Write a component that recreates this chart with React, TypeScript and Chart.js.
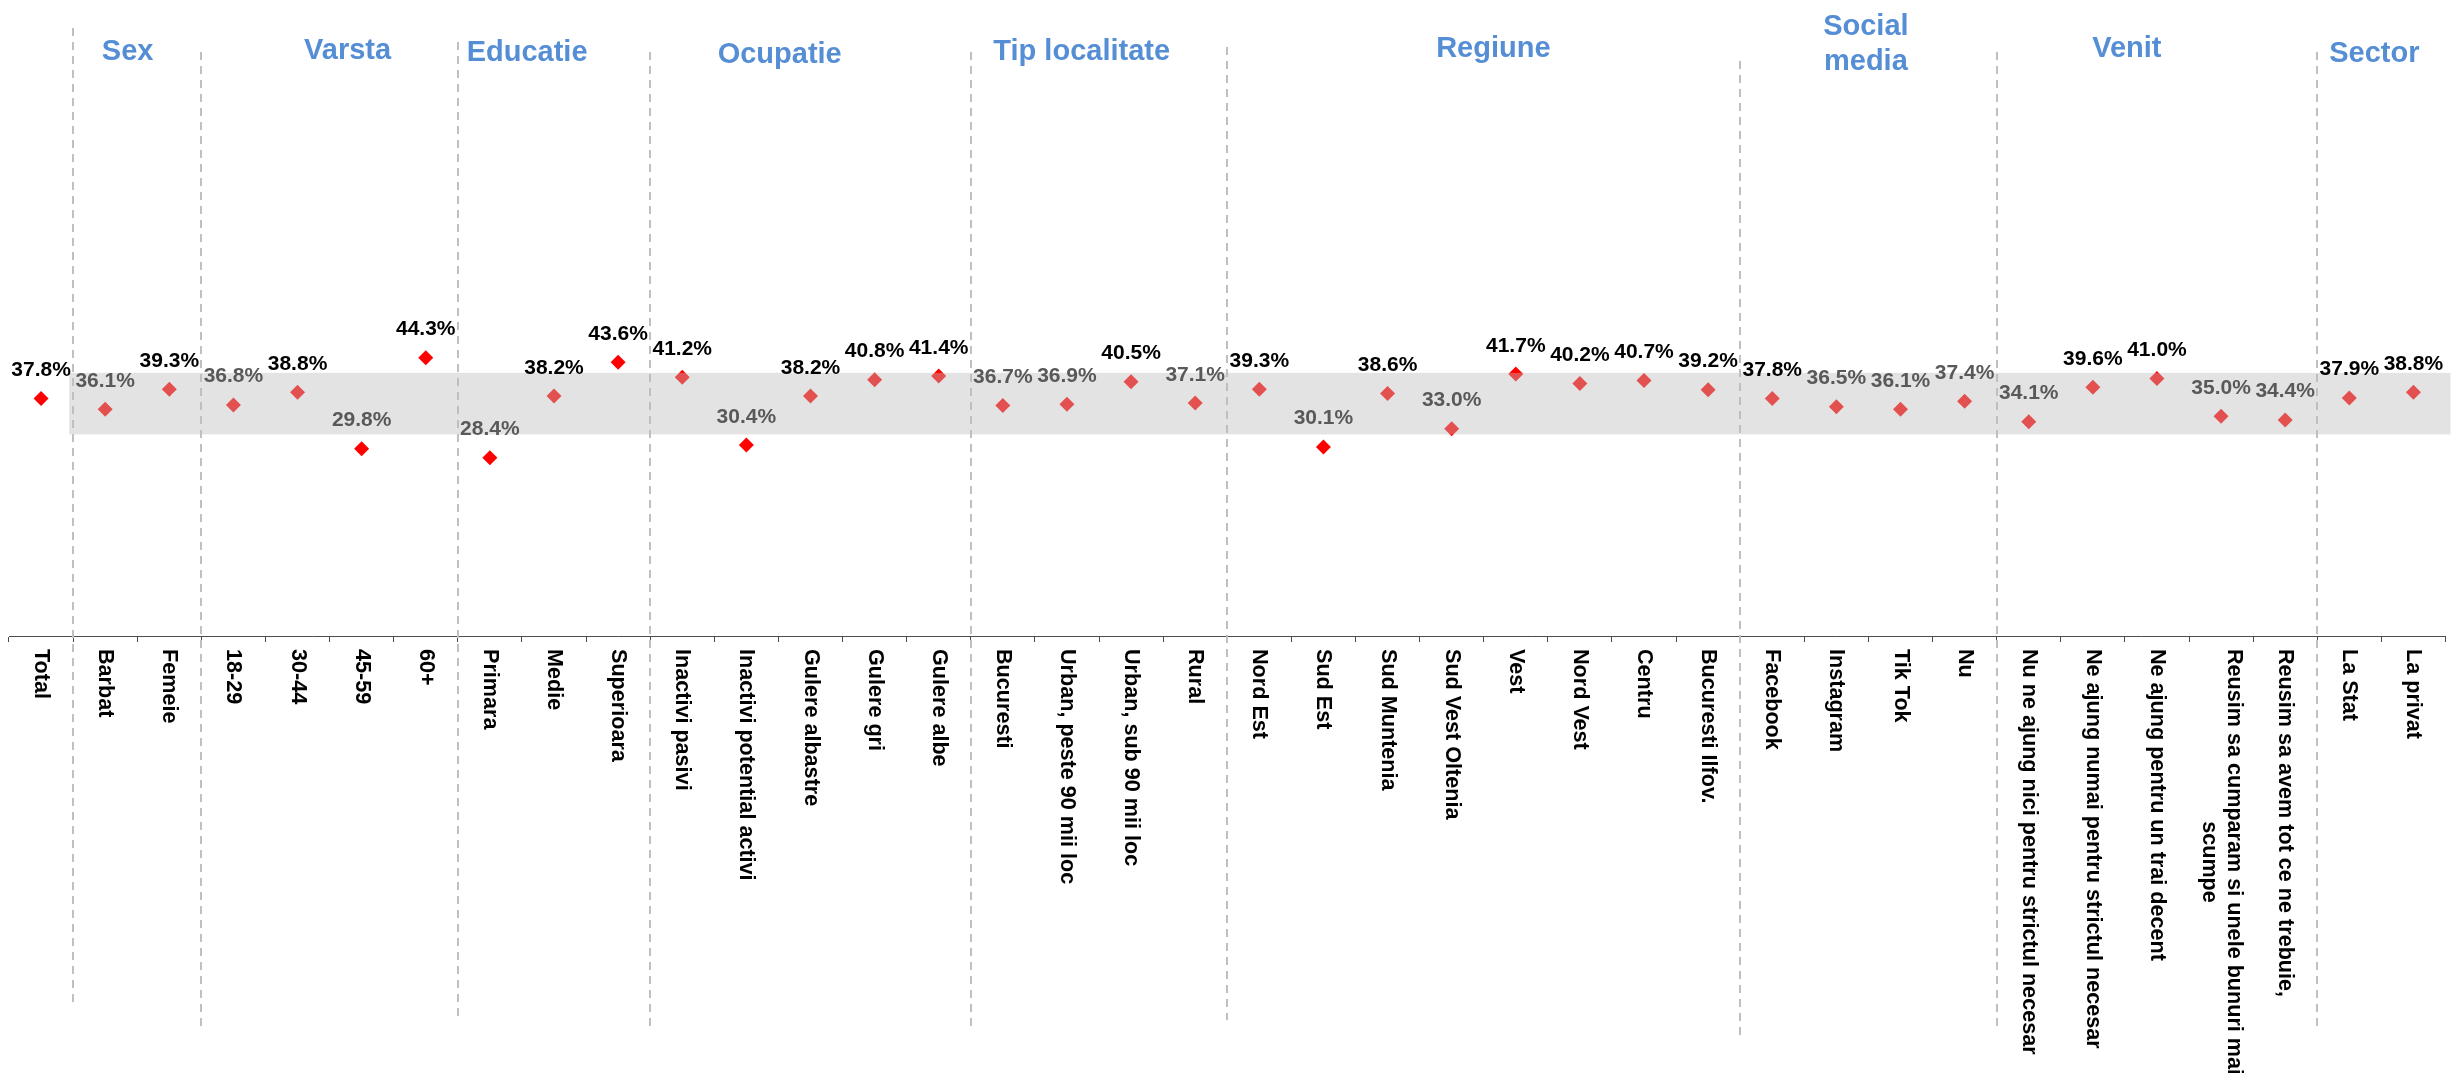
import React, { useEffect, useRef } from "react";
import { Chart, registerables } from "chart.js";

Chart.register(...registerables);

// ---------- data ----------
const categories: (string | string[])[] = [
  "Total",
  "Barbat", "Femeie",
  "18-29", "30-44", "45-59", "60+",
  "Primara", "Medie", "Superioara",
  "Inactivi pasivi", "Inactivi potential activi", "Gulere albastre", "Gulere gri", "Gulere albe",
  "Bucuresti", "Urban, peste 90 mii loc", "Urban, sub 90 mii loc", "Rural",
  "Nord Est", "Sud Est", "Sud Muntenia", "Sud Vest Oltenia", "Vest", "Nord Vest", "Centru", "Bucuresti Ilfov.",
  "Facebook", "Instagram", "Tik Tok", "Nu",
  "Nu ne ajung nici pentru strictul necesar",
  "Ne ajung numai pentru strictul necesar",
  "Ne ajung pentru un trai decent",
  ["Reusim sa cumparam si unele bunuri mai", "scumpe"],
  "Reusim sa avem tot ce ne trebuie,",
  "La Stat", "La privat",
];

const values: number[] = [
  37.8,
  36.1, 39.3,
  36.8, 38.8, 29.8, 44.3,
  28.4, 38.2, 43.6,
  41.2, 30.4, 38.2, 40.8, 41.4,
  36.7, 36.9, 40.5, 37.1,
  39.3, 30.1, 38.6, 33.0, 41.7, 40.2, 40.7, 39.2,
  37.8, 36.5, 36.1, 37.4,
  34.1, 39.6, 41.0, 35.0, 34.4,
  37.9, 38.8,
];

const groupNames: string[][] = [
  ["Sex"], ["Varsta"], ["Educatie"], ["Ocupatie"], ["Tip localitate"],
  ["Regiune"], ["Social", "media"], ["Venit"], ["Sector"],
];
const groupSizes: number[] = [2, 4, 3, 5, 4, 8, 4, 5, 2];

const bandLow = 32.1;
const bandHigh = 41.9;
const totalValue = values[0];

// ---------- layout (not data) ----------
// title anchor as fractional category index + pixel baselines
const titleAnchor: number[] = [1.35, 4.78, 7.58, 11.52, 16.23, 22.65, 28.46, 32.53, 36.39];
const titleBaseline: number[] = [60, 59, 61, 63, 60, 57, 35, 57, 62];
const separatorTop: number[] = [28, 52, 42, 52, 52, 47, 61, 52, 52];
const separatorBottom: number[] = [1002, 1027, 1017, 1027, 1027, 1020, 1035, 1027, 1027];

const FONT = "'Liberation Sans', Arial, Helvetica, sans-serif";

const overlayPlugin = {
  id: "overlayPlugin",
  beforeDatasetsDraw(chart: any) {
    const { ctx } = chart;
    const xs = chart.scales.x;
    ctx.save();
    ctx.strokeStyle = "#C0C0C0";
    ctx.lineWidth = 2;
    ctx.setLineDash([8, 6]);
    let cum = 1;
    groupSizes.forEach((size, g) => {
      const x = Math.round(xs.getPixelForValue(cum - 0.5));
      ctx.beginPath();
      ctx.moveTo(x, separatorTop[g]);
      ctx.lineTo(x, separatorBottom[g]);
      ctx.stroke();
      cum += size;
    });
    ctx.restore();
  },
  afterDatasetsDraw(chart: any) {
    const { ctx, chartArea } = chart;
    const xs = chart.scales.x;
    const ys = chart.scales.y;
    ctx.save();
    // band overlay (drawn over the markers)
    const bx0 = xs.getPixelForValue(0.5) - 4;
    const by0 = ys.getPixelForValue(bandHigh);
    const by1 = ys.getPixelForValue(bandLow);
    ctx.fillStyle = "rgba(189,189,189,0.424)";
    ctx.fillRect(bx0, by0, chartArea.right + 5 - bx0, by1 - by0);

    // value labels
    ctx.font = `bold 21px ${FONT}`;
    ctx.textAlign = "center";
    ctx.textBaseline = "alphabetic";
    values.forEach((v, i) => {
      const px = xs.getPixelForValue(i);
      const py = ys.getPixelForValue(v);
      ctx.fillStyle = v >= totalValue ? "#000000" : "#595959";
      ctx.fillText(v.toFixed(1) + "%", px, py - 22.5);
    });

    // group titles
    ctx.font = `bold 29px ${FONT}`;
    ctx.fillStyle = "#558ED5";
    groupNames.forEach((lines, g) => {
      const x = xs.getPixelForValue(titleAnchor[g]);
      lines.forEach((line, j) => {
        ctx.fillText(line, x, titleBaseline[g] + j * 35);
      });
    });

    // category labels, rotated clockwise
    ctx.font = `bold 21.6px ${FONT}`;
    ctx.fillStyle = "#000000";
    ctx.textAlign = "left";
    ctx.textBaseline = "middle";
    const y0 = 649;
    const lh = 25;
    categories.forEach((lab, i) => {
      const lines = Array.isArray(lab) ? lab : [lab];
      const widths = lines.map((l) => ctx.measureText(l).width);
      const maxW = Math.max(...widths);
      const cx = xs.getPixelForValue(i);
      const n = lines.length;
      lines.forEach((line, j) => {
        const lx = cx + ((n - 1) / 2 - j) * lh;
        const ly = y0 + (maxW - widths[j]) / 2;
        ctx.save();
        ctx.translate(lx, ly);
        ctx.rotate(Math.PI / 2);
        ctx.fillText(line, 0, 0);
        ctx.restore();
      });
    });
    ctx.restore();
  },
};

export default function App() {
  const canvasRef = useRef<HTMLCanvasElement | null>(null);

  useEffect(() => {
    document.body.style.margin = "0";
    document.body.style.overflow = "hidden";
    const canvas = canvasRef.current;
    if (!canvas) return;
    const chart = new Chart(canvas, {
      type: "line",
      data: {
        labels: categories.map((c) => (Array.isArray(c) ? c.join(" ") : c)),
        datasets: [
          {
            data: values,
            showLine: false,
            pointStyle: "rectRot",
            pointRadius: 7.5,
            pointHoverRadius: 7.5,
            pointBackgroundColor: "#FF0000",
            pointBorderWidth: 0,
            borderColor: "#FF0000",
          },
        ],
      },
      options: {
        responsive: false,
        animation: false,
        devicePixelRatio: 1,
        layout: { padding: { left: 9, right: 5, top: 8, bottom: 0 } },
        plugins: {
          legend: { display: false },
          tooltip: { enabled: false },
        },
        events: [],
        scales: {
          x: {
            type: "category",
            offset: true,
            grid: {
              offset: true,
              display: true,
              drawOnChartArea: false,
              drawTicks: true,
              tickLength: 6,
              color: "#4D4D4D",
              lineWidth: 1,
            },
            border: { display: true, color: "#4D4D4D", width: 1 },
            ticks: { display: false },
            afterFit: (scale: any) => {
              scale.height = 437;
            },
          },
          y: {
            display: false,
            min: 0,
            max: 100,
          },
        },
      },
      plugins: [overlayPlugin],
    });
    return () => chart.destroy();
  }, []);

  return (
    <canvas
      ref={canvasRef}
      width={2453}
      height={1073}
      style={{ display: "block", width: "2453px", height: "1073px" }}
    />
  );
}
